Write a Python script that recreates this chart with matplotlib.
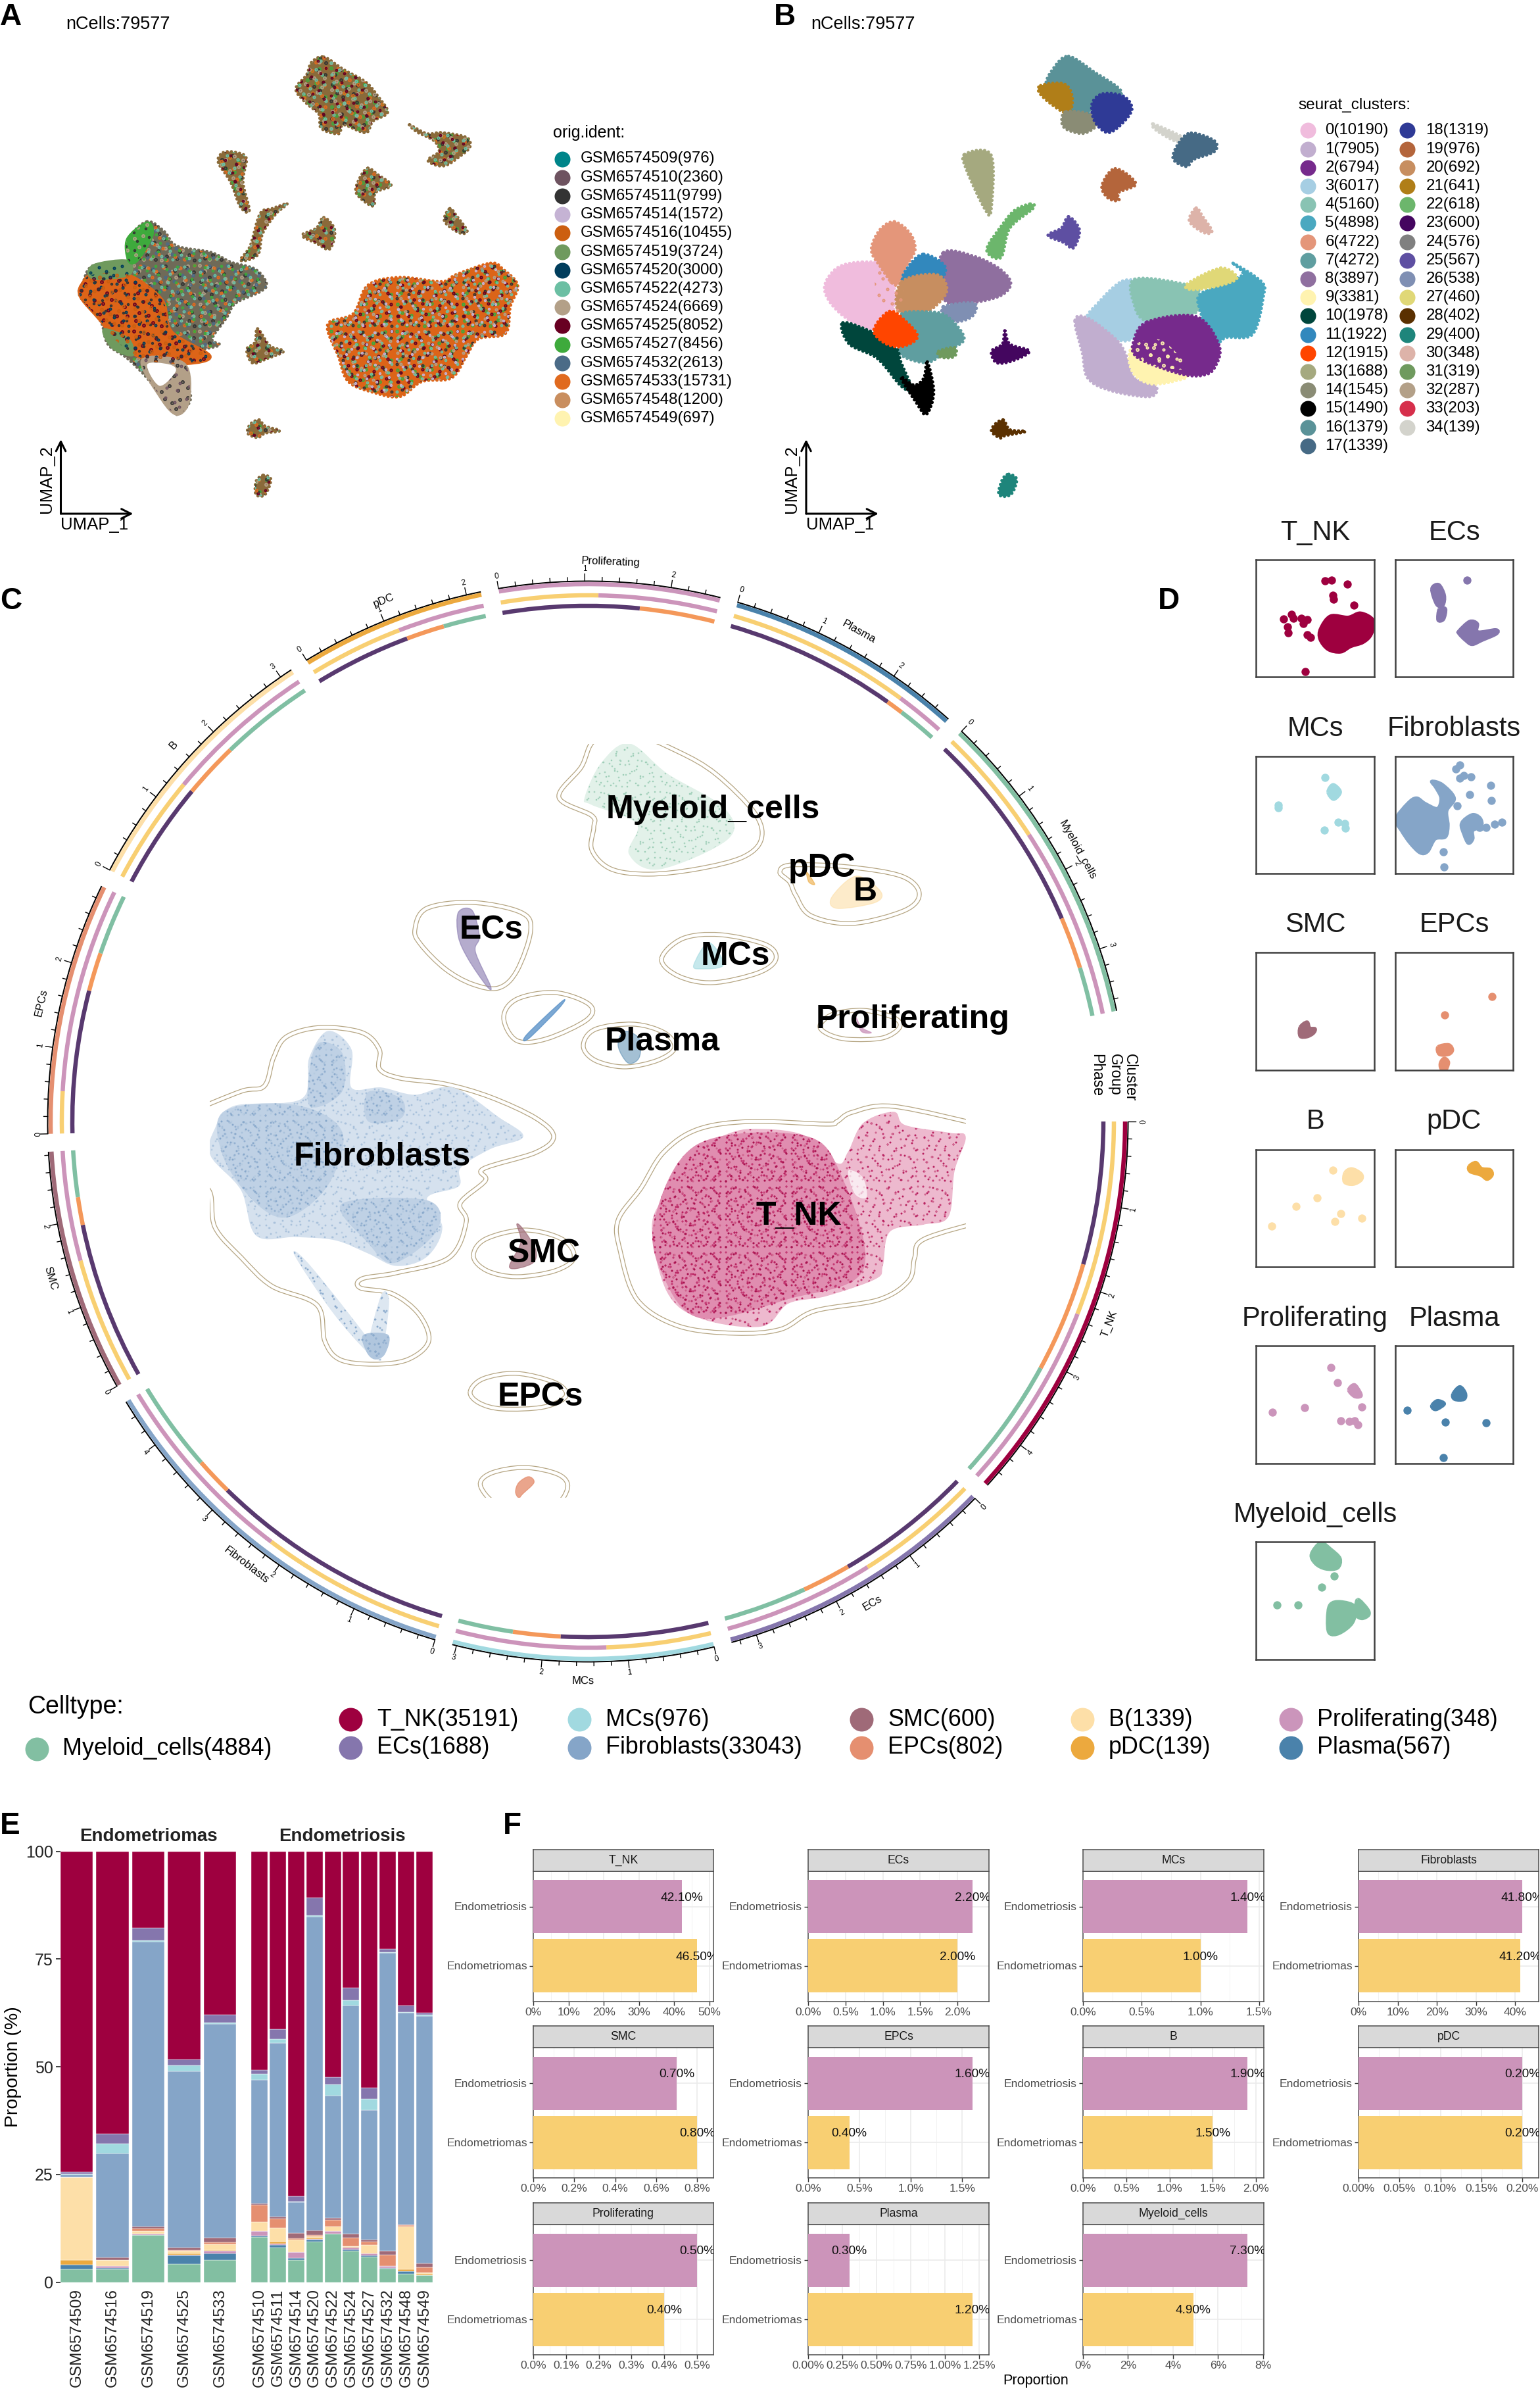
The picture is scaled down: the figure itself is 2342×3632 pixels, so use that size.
import matplotlib
matplotlib.use("Agg")
import matplotlib.pyplot as plt
import matplotlib.hatch as mhatch
import numpy as np
from matplotlib.patches import PathPatch
from matplotlib.path import Path

plt.rcParams['font.family'] = ['Liberation Sans', 'DejaVu Sans']

W, H = 2342, 3632

# ---------- legends ----------
sample_names = ["GSM6574509", "GSM6574510", "GSM6574511", "GSM6574514", "GSM6574516",
                "GSM6574519", "GSM6574520", "GSM6574522", "GSM6574524", "GSM6574525",
                "GSM6574527", "GSM6574532", "GSM6574533", "GSM6574548", "GSM6574549"]
sample_counts = [976, 2360, 9799, 1572, 10455, 3724, 3000, 4273, 6669, 8052, 8456, 2613, 15731, 1200, 697]
sample_colors = ["#00858A", "#6E5360", "#333333", "#C5B3D4", "#CC5F10", "#6F9A5E", "#003D5C", "#6BBFA3",
                 "#B3A088", "#680022", "#3EAA3C", "#4B6B87", "#E06A1F", "#C98E5E", "#FFF3B0"]

cluster_counts = [10190, 7905, 6794, 6017, 5160, 4898, 4722, 4272, 3897, 3381, 1978, 1922, 1915, 1688, 1545,
                  1490, 1379, 1339, 1319, 976, 692, 641, 618, 600, 576, 567, 538, 460, 402, 400, 348, 319,
                  287, 203, 139]
cluster_colors = ["#F0BCDD", "#C1AECF", "#762A8C", "#A6CEE3", "#89C3B3", "#4AA8C0", "#E4967A", "#5F9EA0",
                  "#8F6F9F", "#FFF3B0", "#00463C", "#3288BD", "#FF4500", "#A5A97F", "#8A8C75", "#000000",
                  "#5A9298", "#466A85", "#2F3A96", "#B4653B", "#C78E60", "#B07E18", "#6CB66C", "#44065F",
                  "#808080", "#5E4FA2", "#7F8FB3", "#E0D877", "#5A3000", "#1E857B", "#DDB3A9", "#6F9A5E",
                  "#B3A088", "#D62F4B", "#D3D3CC"]

celltype_names = ["T_NK", "ECs", "MCs", "Fibroblasts", "SMC", "EPCs", "B", "pDC", "Proliferating", "Plasma",
                  "Myeloid_cells"]
celltype_counts = [35191, 1688, 976, 33043, 600, 802, 1339, 139, 348, 567, 4884]
celltype_colors = ["#9E003F", "#8576AD", "#A1D9E0", "#85A5C8", "#9F6A78", "#E58F70", "#FDDFA8", "#ECA93E",
                   "#CB95BB", "#4A82AB", "#82BFA2"]

# ---------- panel A outlines ----------
a_top = [(660, 160), (700, 195), (745, 230), (770, 270), (790, 315), (760, 340), (745, 372), (700, 350), (690, 375),
         (655, 360), (650, 320), (625, 290), (603, 250), (625, 210), (635, 175)]
a_right = [(835, 350), (870, 375), (900, 372), (950, 385), (958, 410), (945, 430), (905, 465), (872, 450), (895, 425),
           (885, 395), (850, 370)]
a_ecs = [(455, 428), (482, 428), (502, 445), (495, 510), (508, 590), (490, 580), (470, 510), (445, 455)]
a_mid = [(750, 472), (770, 490), (797, 520), (765, 540), (762, 577), (740, 562), (725, 535), (735, 495)]
a_thin = [(917, 585), (930, 605), (952, 648), (935, 652), (906, 620)]
a_branch = [(585, 572), (562, 600), (535, 655), (525, 715), (490, 730), (510, 690), (530, 600), (555, 585)]
a_plasma = [(660, 610), (682, 645), (672, 698), (645, 682), (616, 660), (645, 640)]
a_fib = [(300, 622), (335, 650), (360, 690), (430, 708), (470, 735), (520, 755), (543, 795), (530, 818), (480, 850),
         (462, 890), (432, 950), (447, 968), (400, 985), (428, 998), (380, 1020), (378, 1060), (388, 1120), (362, 1162),
         (340, 1130), (300, 1060), (260, 1005), (220, 965), (205, 900), (163, 830), (170, 790), (190, 745), (258, 732),
         (262, 670)]
a_fib_left = [(170, 790), (190, 770), (260, 770), (330, 840), (350, 930), (428, 998), (380, 1020), (300, 1010), (240, 960),
              (205, 900), (163, 830)]
a_fib_olive_top = [(190, 745), (258, 732), (262, 770), (190, 780)]
a_fib_olive_low = [(212, 925), (260, 950), (270, 995), (230, 975)]
a_fib_green = [(300, 625), (310, 660), (280, 730), (262, 730), (260, 670)]
a_fib_tail = [(290, 1010), (375, 1020), (385, 1120), (362, 1162), (330, 1120)]
a_fib_hole = [(300, 1022), (345, 1022), (358, 1042), (325, 1082)]
a_tnk = [(1000, 738), (1025, 755), (1055, 800), (1040, 860), (1030, 935), (975, 950), (950, 1000), (920, 1060), (860, 1070),
         (815, 1112), (760, 1100), (710, 1070), (690, 1000), (668, 910), (720, 880), (750, 800), (815, 778), (900, 790), (930, 770)]
a_smc = [(525, 922), (550, 970), (578, 985), (545, 1005), (515, 1018), (503, 980), (520, 960)]
a_epc = [(528, 1178), (540, 1195), (570, 1208), (540, 1215), (525, 1227), (505, 1215), (510, 1190)]
a_pdc = [(537, 1333), (552, 1345), (540, 1387), (522, 1387), (522, 1350)]

# ---------- panel B cluster outlines: (cluster, outline) ----------
b_regions = [
    (0, [(190, 735), (250, 745), (255, 810), (250, 880), (215, 925), (165, 900), (125, 850), (113, 800), (140, 750)]),
    (6, [(255, 622), (287, 655), (297, 700), (280, 745), (258, 800), (225, 745), (208, 700), (225, 645)]),
    (8, [(355, 708), (420, 720), (470, 755), (492, 795), (470, 830), (410, 850), (365, 850), (345, 800)]),
    (11, [(315, 713), (357, 745), (350, 785), (320, 800), (272, 790), (285, 745)]),
    (20, [(270, 790), (340, 770), (362, 810), (345, 850), (310, 880), (262, 870)]),
    (26, [(355, 860), (417, 850), (415, 885), (385, 902), (360, 890)]),
    (7, [(270, 880), (330, 875), (365, 890), (397, 950), (360, 985), (320, 1017), (265, 990), (280, 930)]),
    (31, [(345, 985), (378, 975), (377, 1000), (350, 1002)]),
    (10, [(150, 905), (215, 935), (258, 975), (268, 1015), (290, 1090), (268, 1082), (220, 1005), (163, 965)]),
    (12, [(245, 873), (277, 900), (302, 945), (270, 972), (235, 962), (213, 925)]),
    (15, [(322, 1015), (335, 1100), (320, 1162), (300, 1130), (268, 1058), (295, 1080), (315, 1060)]),
    (13, [(398, 433), (452, 435), (452, 588), (440, 588), (403, 480)]),
    (22, [(532, 572), (537, 585), (490, 640), (472, 722), (443, 700), (475, 630), (500, 590)]),
    (25, [(610, 608), (632, 645), (620, 695), (600, 680), (568, 660), (595, 640)]),
    (19, [(705, 473), (747, 515), (712, 540), (712, 562), (690, 555), (678, 520)]),
    (23, [(480, 928), (490, 965), (530, 985), (495, 1012), (463, 1017), (453, 985), (475, 965)]),
    (28, [(477, 1178), (490, 1205), (522, 1210), (480, 1222), (470, 1228), (453, 1210), (460, 1190)]),
    (29, [(488, 1330), (504, 1345), (492, 1387), (468, 1387), (475, 1345)]),
    (30, [(870, 583), (882, 605), (902, 648), (885, 652), (856, 620)]),
    (34, [(783, 348), (842, 385), (830, 397), (790, 367)]),
    (17, [(860, 373), (907, 395), (907, 425), (865, 447), (850, 467), (823, 445), (835, 400)]),
    (16, [(610, 158), (660, 200), (718, 260), (660, 292), (650, 320), (615, 318), (590, 300), (610, 255), (565, 240), (580, 190)]),
    (21, [(553, 240), (600, 235), (617, 270), (612, 315), (590, 307), (553, 265)]),
    (14, [(605, 313), (652, 320), (667, 350), (640, 374), (605, 362), (596, 340)]),
    (18, [(680, 263), (722, 270), (739, 305), (720, 345), (690, 372), (663, 340), (658, 290)]),
    (3, [(720, 788), (760, 800), (745, 860), (770, 900), (740, 950), (705, 950), (648, 900), (670, 850)]),
    (4, [(745, 783), (855, 800), (880, 830), (875, 870), (840, 890), (770, 900), (745, 860)]),
    (5, [(945, 738), (1003, 790), (1007, 830), (985, 937), (930, 947), (910, 972), (895, 960), (880, 880), (875, 830), (915, 800), (965, 770)]),
    (27, [(920, 752), (953, 780), (915, 802), (860, 812), (853, 795)]),
    (1, [(623, 898), (650, 893), (705, 950), (725, 990), (745, 1060), (787, 1080), (777, 1112), (700, 1097), (650, 1062), (638, 990)]),
    (9, [(745, 968), (790, 990), (850, 1050), (830, 1067), (780, 1077), (745, 1052), (733, 1005)]),
    (2, [(770, 903), (870, 888), (917, 970), (907, 1032), (885, 1052), (850, 1052), (800, 1032), (748, 1000), (742, 960)]),
]
b_mix_nine = [(748, 965), (800, 955), (850, 1030), (800, 1030), (760, 1010)]
b_mix_six = [(225, 745), (265, 750), (270, 860), (235, 870), (215, 800)]

# ---------- panel C ring ----------
sector_max = [4.6, 3.3, 3.05, 4.6, 2.84, 2.95, 3.15, 2.17, 2.58, 2.8, 3.74]
group_split = [0.507, 0.45, 0.41, 0.486, 0.536, 0.17, 0.417, 0.52, 0.45, 0.79, 0.384]
phase_purple = [0.38, 0.51, 0.59, 0.66, 0.68, 0.59, 0.417, 0.545, 0.645, 0.755, 0.67]
phase_orange = [0.675, 0.69, 0.78, 0.76, 0.80, 0.75, 0.634, 0.76, 1.0, 0.83, 0.84]

# contours of panel C, figure pixels
c_contour_fib = [(290, 1690), (367, 1659), (402, 1651), (416, 1608), (436, 1576), (488, 1562), (551, 1570), (577, 1596), (577, 1625),
                 (608, 1639), (677, 1648), (746, 1668), (815, 1700), (842, 1728), (815, 1752), (735, 1777), (738, 1795), (700, 1829),
                 (709, 1858), (683, 1912), (603, 1935), (551, 1944), (548, 1958), (597, 1967), (637, 1998), (652, 2039), (620, 2067),
                 (568, 2074), (517, 2067), (494, 2039), (482, 1984), (413, 1955), (367, 1912), (327, 1866), (319, 1812), (290, 1790)]
c_contour_tnk = [(1500, 1855), (1405, 1884), (1391, 1912), (1382, 1947), (1336, 1976), (1239, 1993), (1187, 2021), (1118, 2027),
                 (1032, 2016), (969, 1976), (943, 1901), (940, 1855), (975, 1806), (1009, 1752), (1061, 1717), (1141, 1705),
                 (1256, 1709), (1273, 1705), (1296, 1691), (1359, 1682), (1500, 1712)]
c_contour_mye = [(960, 1115), (1032, 1143), (1089, 1177), (1147, 1235), (1158, 1275), (1130, 1303), (1061, 1321), (986, 1329),
                 (929, 1321), (900, 1292), (903, 1258), (900, 1240), (850, 1212), (884, 1166), (905, 1125)]
c_contour_ecs = [(631, 1413), (649, 1381), (718, 1372), (792, 1387), (807, 1415), (786, 1476), (758, 1502), (718, 1496), (677, 1473), (640, 1436)]
c_contour_tail = [(766, 1547), (786, 1519), (844, 1509), (896, 1527), (893, 1550), (832, 1579), (786, 1582)]
c_contour_pla = [(887, 1590), (905, 1565), (963, 1557), (1010, 1570), (1026, 1593), (1000, 1612), (950, 1622), (905, 1612)]
c_contour_mcs = [(1006, 1458), (1038, 1427), (1095, 1421), (1164, 1436), (1180, 1458), (1153, 1479), (1084, 1494), (1032, 1484)]
c_contour_b = [(1186, 1326), (1204, 1315), (1290, 1318), (1371, 1332), (1398, 1358), (1376, 1384), (1296, 1404), (1233, 1392), (1210, 1361), (1201, 1341)]
c_contour_pro = [(1247, 1559), (1267, 1542), (1313, 1536), (1359, 1547), (1368, 1562), (1342, 1578), (1290, 1580), (1259, 1572)]
c_contour_smc = [(720, 1910), (738, 1884), (798, 1870), (855, 1884), (873, 1912), (844, 1932), (786, 1941), (741, 1932)]
c_contour_epc = [(715, 2116), (735, 2096), (786, 2088), (844, 2102), (861, 2122), (827, 2139), (764, 2142), (729, 2133)]
c_contour_low = [(731, 2260), (746, 2240), (798, 2231), (850, 2242), (863, 2263), (838, 2290), (764, 2290)]

c_cloud_fib = [(499, 1568), (534, 1596), (534, 1654), (580, 1654), (631, 1665), (689, 1654), (758, 1699), (795, 1728), (746, 1746), (700, 1775),
               (697, 1803), (649, 1821), (672, 1866), (649, 1910), (603, 1924), (560, 1905), (510, 1885), (450, 1880), (390, 1878),
               (367, 1809), (321, 1757), (327, 1717), (356, 1682), (459, 1671), (471, 1608)]
c_core_fib_top = [(480, 1590), (520, 1600), (520, 1660), (470, 1680)]
c_core_fib_left = [(340, 1690), (450, 1680), (520, 1720), (500, 1800), (440, 1850), (390, 1830), (340, 1760)]
c_core_fib_mid = [(560, 1660), (610, 1670), (610, 1700), (560, 1705)]
c_core_fib_right = [(520, 1830), (650, 1825), (665, 1870), (600, 1920), (560, 1890)]
c_tail_one = [(448, 1907), (476, 1930), (574, 2056), (560, 2056), (505, 1993)]
c_tail_two = [(580, 1970), (591, 1976), (585, 2033), (577, 2062), (560, 2050)]
c_tail_end = [(553, 2030), (590, 2030), (585, 2058), (570, 2066), (558, 2055)]
c_cloud_tnk = [(1095, 1729), (1141, 1717), (1221, 1726), (1273, 1769), (1290, 1752), (1313, 1708), (1359, 1691), (1376, 1711), (1445, 1723), (1468, 1729),
               (1451, 1780), (1442, 1849), (1405, 1861), (1353, 1872), (1342, 1924), (1331, 1944), (1256, 1970), (1199, 1981), (1158, 2016),
               (1066, 2004), (1015, 1964), (992, 1866), (1015, 1815), (1050, 1775), (1072, 1740)]
c_core_tnk = [(1060, 1740), (1221, 1726), (1279, 1786), (1313, 1930), (1199, 1975), (1066, 2004), (1009, 1941), (995, 1855)]
c_slit_tnk = [(1290, 1780), (1312, 1790), (1318, 1820), (1300, 1815)]
c_cloud_mye = [(957, 1131), (1015, 1177), (1101, 1229), (1107, 1275), (1003, 1321), (957, 1298), (969, 1252), (900, 1223), (890, 1212), (915, 1160)]
c_cloud_ecs = [(697, 1387), (718, 1384), (729, 1424), (723, 1447), (746, 1499), (740, 1499), (712, 1458), (697, 1424)]
c_cloud_tail = [(855, 1522), (850, 1533), (804, 1579), (801, 1573)]
c_cloud_mcs = [(1078, 1433), (1100, 1467), (1066, 1473), (1055, 1467)]
c_cloud_b = [(1302, 1332), (1339, 1355), (1331, 1372), (1273, 1381), (1265, 1364)]
c_cloud_pdc = [(1227, 1326), (1239, 1344), (1230, 1341)]
c_cloud_pro = [(1302, 1547), (1310, 1562), (1325, 1570), (1310, 1568)]
c_cloud_pla = [(949, 1568), (972, 1579), (972, 1608), (955, 1616), (940, 1590)]
c_cloud_smc = [(786, 1861), (798, 1872), (815, 1901), (809, 1921), (775, 1927), (792, 1889)]
c_cloud_low = [(804, 2245), (812, 2254), (795, 2271), (789, 2277), (784, 2268), (789, 2254)]

c_big_labels = ["Myeloid_cells", "pDC", "B", "MCs", "Proliferating", "Plasma", "ECs", "Fibroblasts", "SMC", "EPCs", "T_NK"]
c_big_x = [1084, 1250, 1316, 1118, 1388, 1007, 747, 581, 827, 822, 1215]
c_big_y = [1231, 1320, 1356, 1454, 1550, 1584, 1414, 1759, 1906, 2124, 1849]

# ---------- panel D small maps, dots then blobs, one set per cell type ----------
d_dots = {
    "T_NK": [(278, 50), (303, 49), (368, 58), (310, 85), (312, 95), (393, 108), (111, 142), (142, 130), (151, 140), (181, 140), (205, 143),
             (190, 152), (126, 160), (128, 175), (205, 180), (218, 185), (197, 268)],
    "ECs": [(290, 48)],
    "MCs": [(277, 51), (91, 117), (91, 122), (274, 176), (330, 157), (355, 160), (358, 172)],
    "Fibroblasts": [(260, 20), (245, 30), (275, 45), (260, 52), (305, 48), (385, 70), (300, 92), (250, 118), (387, 105), (195, 228), (197, 264),
                    (430, 157), (400, 162), (365, 170), (340, 170)],
    "SMC": [],
    "EPCs": [(390, 105), (198, 148)],
    "B": [(310, 48), (245, 115), (160, 136), (63, 182), (340, 153), (317, 171), (425, 163)],
    "pDC": [],
    "Proliferating": [(302, 52), (328, 87), (425, 146), (196, 147), (67, 158), (340, 178), (375, 180), (395, 178), (408, 188)],
    "Plasma": [(48, 153), (203, 181), (367, 183), (195, 266)],
    "Myeloid_cells": [(315, 82), (263, 108), (85, 150), (168, 150)],
}
d_blobs = {
    "T_NK": [[(260, 165), (300, 135), (370, 138), (420, 128), (470, 145), (462, 178), (430, 197), (380, 207), (340, 220), (290, 214), (258, 190)]],
    "ECs": [[(148, 70), (175, 60), (197, 85), (192, 108), (168, 107)], [(178, 118), (202, 118), (194, 142), (173, 144)],
            [(258, 170), (300, 148), (330, 153), (332, 173), (405, 168), (407, 177), (350, 192), (310, 202), (283, 192), (258, 177)]],
    "MCs": [[(290, 85), (310, 68), (338, 85), (312, 102)]],
    "Fibroblasts": [[(3, 150), (50, 113), (85, 100), (120, 113), (170, 125), (185, 100), (165, 75), (148, 60), (190, 68), (237, 100), (207, 130),
                     (212, 165), (202, 192), (160, 197), (130, 227), (100, 230), (60, 207), (25, 177)],
                    [(268, 160), (310, 140), (342, 148), (347, 167), (312, 177), (312, 197), (295, 207), (278, 187)]],
    "SMC": [[(178, 178), (205, 166), (215, 180), (237, 182), (230, 192), (205, 200), (178, 199)]],
    "EPCs": [[(173, 225), (215, 220), (230, 232), (215, 242), (178, 242)], [(183, 262), (198, 252), (214, 262), (200, 282), (184, 275)]],
    "B": [[(358, 55), (385, 46), (422, 58), (422, 72), (390, 82), (356, 77)]],
    "pDC": [[(298, 40), (325, 31), (347, 45), (382, 48), (390, 60), (370, 70), (345, 60), (303, 52)]],
    "Proliferating": [[(373, 105), (395, 93), (417, 110), (420, 120), (395, 120)]],
    "Plasma": [[(233, 115), (260, 98), (282, 113), (277, 127), (240, 127)], [(148, 142), (170, 131), (197, 138), (170, 150), (155, 150)]],
    "Myeloid_cells": [[(223, 30), (260, 3), (300, 18), (337, 40), (327, 62), (280, 64), (240, 52)],
                      [(298, 150), (340, 143), (397, 155), (387, 192), (335, 217), (295, 217), (288, 185)],
                      [(408, 138), (447, 160), (452, 174), (425, 182), (403, 172)]],
}
d_order = ["T_NK", "ECs", "MCs", "Fibroblasts", "SMC", "EPCs", "B", "pDC", "Proliferating", "Plasma", "Myeloid_cells"]

# ---------- panel E, percent per sample ----------
stack_order = ["Myeloid_cells", "Plasma", "Proliferating", "pDC", "B", "EPCs", "SMC", "Fibroblasts", "MCs", "ECs", "T_NK"]
endometriomas_samples = ["GSM6574509", "GSM6574516", "GSM6574519", "GSM6574525", "GSM6574533"]
endometriomas_props = [
    [3.0, 1.1, 0, 1.1, 19.2, 0, 0, 0.6, 0.1, 0.5, 74.4],
    [3.0, 0.3, 0.4, 0.1, 1.3, 0.1, 0.5, 24.2, 2.2, 2.3, 65.6],
    [10.9, 0.1, 0.2, 0.1, 0.5, 0.6, 0.6, 66.0, 0.3, 2.9, 17.8],
    [4.2, 2.0, 0.2, 0.2, 0.7, 0.2, 0.5, 41.0, 1.3, 1.4, 48.3],
    [5.2, 1.4, 0.7, 0.2, 1.3, 0.4, 1.1, 49.7, 0.3, 1.7, 38.0],
]
endometriosis_samples = ["GSM6574510", "GSM6574511", "GSM6574514", "GSM6574520", "GSM6574522",
                         "GSM6574524", "GSM6574527", "GSM6574532", "GSM6574548", "GSM6574549"]
endometriosis_props = [
    [10.5, 0.3, 1.1, 0, 2.1, 3.9, 0.4, 28.7, 1.3, 0.9, 50.8],
    [8.1, 0.5, 0.4, 0.4, 3.2, 2.2, 0.4, 40.3, 1.0, 2.2, 41.3],
    [5.2, 0.4, 1.3, 0, 2.9, 0.4, 1.2, 7.1, 0.3, 1.2, 80.0],
    [9.4, 0.4, 0.3, 0.2, 0.4, 0.3, 1.0, 72.8, 0.3, 4.2, 10.7],
    [11.2, 0.1, 0.6, 0, 1.0, 1.6, 0.4, 28.4, 2.6, 1.7, 52.4],
    [7.3, 0.3, 0.5, 0.1, 0.2, 1.9, 0.9, 53.0, 1.3, 2.9, 31.6],
    [5.9, 0.3, 0.4, 0.1, 1.9, 0.8, 0.4, 30.1, 2.6, 2.7, 54.8],
    [3.1, 0.2, 0.4, 0, 0.1, 2.6, 0.9, 69.1, 0.1, 0.8, 22.7],
    [2.0, 0.6, 0, 0.4, 10.0, 0.2, 0.2, 49.1, 0.2, 1.5, 35.8],
    [1.6, 0, 0, 0.4, 0.2, 1.3, 0.9, 57.4, 0.2, 0.6, 37.4],
]

# ---------- panel F ----------
f_endometriosis = [42.1, 2.2, 1.4, 41.8, 0.7, 1.6, 1.9, 0.2, 0.5, 0.3, 7.3]
f_endometriomas = [46.5, 2.0, 1.0, 41.2, 0.8, 0.4, 1.5, 0.2, 0.4, 1.2, 4.9]
f_ticks = [[0, 10, 20, 30, 40, 50], [0, 0.5, 1, 1.5, 2], [0, 0.5, 1, 1.5], [0, 10, 20, 30, 40],
           [0, 0.2, 0.4, 0.6, 0.8], [0, 0.5, 1, 1.5], [0, 0.5, 1, 1.5, 2], [0, 0.05, 0.1, 0.15, 0.2],
           [0, 0.1, 0.2, 0.3, 0.4, 0.5], [0, 0.25, 0.5, 0.75, 1, 1.25], [0, 2, 4, 6, 8]]
f_decimals = [0, 1, 1, 0, 1, 1, 1, 2, 1, 2, 0]

color_of = dict(zip(celltype_names, celltype_colors))
PINK, YELLOW = "#CC94BA", "#F8CF72"
PHASE_PURPLE, PHASE_ORANGE, PHASE_GREEN = "#58396F", "#F4985A", "#80BFA3"
TAN = "#B5A582"

# the crowded point clouds are drawn as a hatch texture: one fixed irregular tile, flipped per hatch symbol
speck_tile = [(7, 12), (19, 5), (33, 9), (46, 4), (58, 13), (71, 6), (86, 10), (94, 19), (12, 24), (26, 20), (39, 27), (52, 22),
              (65, 28), (78, 19), (90, 33), (5, 37), (18, 41), (31, 35), (44, 43), (57, 38), (70, 44), (83, 41), (95, 52), (10, 54),
              (24, 58), (37, 51), (50, 60), (63, 54), (76, 58), (88, 66), (6, 70), (17, 74), (30, 68), (43, 76), (55, 71), (68, 78),
              (81, 73), (93, 84), (12, 88), (25, 92), (38, 85), (51, 93), (62, 87), (74, 92), (86, 95), (4, 96)]
speck_flips = {"/": lambda x, y: (x, y), "\\": lambda x, y: (y, x), "|": lambda x, y: (1 - x, y),
               "-": lambda x, y: (x, 1 - y), "+": lambda x, y: (1 - y, x), "x": lambda x, y: (y, 1 - x)}


class SpeckHatch(mhatch.HatchPatternBase):
    def __init__(self, hatch, density):
        self.flips = [f for ch, f in speck_flips.items() if ch in (hatch or "")]
        self.circle = Path.unit_circle()
        self.num_vertices = len(self.circle.vertices) * len(speck_tile) * len(self.flips)

    def set_vertices_and_codes(self, vertices, codes):
        n = len(self.circle.vertices)
        k = 0
        for f in self.flips:
            for px, py in speck_tile:
                cx, cy = f(px / 100, py / 100)
                vertices[k:k + n] = self.circle.vertices * 0.008 + (cx, cy)
                codes[k:k + n] = self.circle.codes
                k += n


mhatch._hatch_types[:] = [SpeckHatch]

fig = plt.figure(figsize=(W / 100, H / 100), dpi=100, facecolor="white")


def px_axes(x0, y0, x1, y1, **kw):
    return fig.add_axes([x0 / W, 1 - y1 / H, (x1 - x0) / W, (y1 - y0) / H], **kw)


def smooth(xy, closed=True):
    # curve through the read points
    p = np.array(xy, float)
    if closed:
        before, after, after2 = np.roll(p, 1, axis=0), np.roll(p, -1, axis=0), np.roll(p, -2, axis=0)
        seg_from, seg_to = p, after
    else:
        before = np.vstack([p[:1], p[:-1]])[:-1]
        after = p[1:]
        after2 = np.vstack([p[2:], p[-1:]])
        seg_from, seg_to = p[:-1], after
    c1 = seg_from + (seg_to - before) / 6
    c2 = seg_to - (after2 - seg_from) / 6
    verts, codes = [seg_from[0]], [Path.MOVETO]
    for a, b, e in zip(c1, c2, seg_to):
        verts += [a, b, e]
        codes += [Path.CURVE4] * 3
    return Path(verts, codes)


def blob(ax, xy, color, lw=2.0, alpha=None, z=2):
    ax.add_patch(PathPatch(smooth(xy), facecolor=color, edgecolor=color, lw=lw, alpha=alpha, zorder=z))


def dotted(ax, xy, color, lw=3.6, z=2):
    # filled outline with a row of points along its edge
    ax.add_patch(PathPatch(smooth(xy), facecolor=color, edgecolor="none", zorder=z))
    ax.add_patch(PathPatch(smooth(xy), fill=False, edgecolor=color, lw=lw, linestyle=(0, (0.01, 1.25)),
                           capstyle="round", zorder=z))


def speckle(ax, xy, layers, z=3):
    for k, (symbol, color, dot_lw) in enumerate(layers):
        plt.rcParams['hatch.linewidth'] = dot_lw
        ax.add_patch(PathPatch(smooth(xy), fill=False, edgecolor=color, hatch=symbol, lw=0, zorder=z + k * 0.01))


def bare(ax):
    ax.set_xticks([])
    ax.set_yticks([])
    for s in ax.spines.values():
        s.set_visible(False)
    ax.patch.set_alpha(0)


# ---------- panel A ----------
ax_a = px_axes(0, 0, 1170, 850)
ax_a.set_xlim(0, 1568)
ax_a.set_ylim(1568, 0)
bare(ax_a)
mix_small = [("/", "#3EAA3C", 3), ("\\", "#333333", 3), ("|", "#E06A1F", 3), ("-", "#B3A088", 3), ("+", "#6BBFA3", 2.6), ("x", "#680022", 2.2)]
mix_tnk = [("/", "#3EAA3C", 2.8), ("\\", "#333333", 2.4), ("|", "#680022", 2.6), ("-", "#B3A088", 2.4), ("+", "#6BBFA3", 2.2), ("x", "#C5B3D4", 2)]
mix_fib = [("/", "#B3A088", 3), ("\\", "#333333", 3), ("|", "#E06A1F", 2.6), ("-", "#4B6B87", 2.6), ("+", "#6BBFA3", 2.4), ("x", "#3EAA3C", 2.2)]
mix_left = [("/", "#680022", 3), ("\\", "#003D5C", 2.4), ("|", "#333333", 2), ("-", "#CC5F10", 3)]
for shape in [a_top, a_right, a_ecs, a_mid, a_thin, a_branch, a_plasma, a_smc, a_epc, a_pdc]:
    dotted(ax_a, shape, "#8A6A3A")
    speckle(ax_a, shape, mix_small)
dotted(ax_a, a_fib, "#6F6A58")
speckle(ax_a, a_fib, mix_fib)
blob(ax_a, a_fib_left, "#DC6418", lw=3, z=5)
speckle(ax_a, a_fib_left, mix_left, z=6)
blob(ax_a, a_fib_olive_top, "#6F9A5E", lw=3, z=5)
speckle(ax_a, a_fib_olive_top, [("/", "#003D5C", 2.4)], z=6)
blob(ax_a, a_fib_olive_low, "#6F9A5E", lw=3, z=5)
blob(ax_a, a_fib_green, "#3EAA3C", lw=3, z=5)
speckle(ax_a, a_fib_green, [("/", "#B3A088", 3), ("\\", "#333333", 2)], z=6)
blob(ax_a, a_fib_tail, "#B3A088", lw=3, z=5)
speckle(ax_a, a_fib_tail, [("/", "#333333", 3), ("\\", "#6E5360", 2.4)], z=6)
blob(ax_a, a_fib_hole, "white", lw=0, z=7)
dotted(ax_a, a_tnk, "#DC6418")
speckle(ax_a, a_tnk, mix_tnk)

# ---------- panel B ----------
ax_b = px_axes(1170, 0, 2340, 850)
ax_b.set_xlim(0, 1568)
ax_b.set_ylim(1568, 0)
bare(ax_b)
for k, (cluster, shape) in enumerate(b_regions):
    dotted(ax_b, shape, cluster_colors[cluster], z=2 + k * 0.01)
speckle(ax_b, b_mix_nine, [("/", cluster_colors[9], 3), ("|", cluster_colors[9], 2.4)], z=3)
speckle(ax_b, b_mix_six, [("/", cluster_colors[6], 2.5)], z=3)

# ---------- panel C ring ----------
DEG_PER_UNIT, GAP = 9.2, 1.9
ax_r = px_axes(894 - 900, 1705 - 900, 894 + 900, 1705 + 900, projection="polar")
ax_r.set_theta_zero_location("E")
ax_r.set_theta_direction(-1)
ax_r.set_rlim(0, 900)
ax_r.axis("off")
R_AXIS, R_OUT, R_MID, R_IN = 821.5, 817, 800, 784


def arc(t0, t1, r, color, height=6.5):
    ax_r.bar(np.radians((t0 + t1) / 2), height, width=np.radians(t1 - t0), bottom=r - height / 2, color=color, lw=0)


def tangent_rot(th):
    return 90 - th if 0 < th < 180 else 270 - th


start = 0.0
for i, name in enumerate(celltype_names):
    span = sector_max[i] * DEG_PER_UNIT
    end = start + span
    arc(start, end, R_AXIS, "black", height=2)
    arc(start, end, R_OUT, celltype_colors[i])
    split = start + group_split[i] * span
    arc(start, split, R_MID, YELLOW)
    arc(split, end, R_MID, PINK)
    p1, p2 = start + phase_purple[i] * span, start + phase_orange[i] * span
    arc(start, p1, R_IN, PHASE_PURPLE)
    arc(p1, p2, R_IN, PHASE_ORANGE)
    if p2 < end:
        arc(p2, end, R_IN, PHASE_GREEN)
    for v in np.arange(0, sector_max[i], 0.2):
        th = np.radians(start + v * DEG_PER_UNIT)
        major = abs(v - round(v)) < 1e-6
        ax_r.plot([th, th], [R_AXIS, R_AXIS + (11 if major else 6)], color="black", lw=1.0)
        if major:
            ax_r.text(th, R_AXIS + 19, str(int(round(v))), fontsize=8.5, ha="center", va="center",
                      rotation=tangent_rot(start + v * DEG_PER_UNIT), rotation_mode="anchor")
    mid = (start + end) / 2
    ax_r.text(np.radians(mid), 851, name, fontsize=12, ha="center", va="center",
              rotation=tangent_rot(mid), rotation_mode="anchor")
    start = end + GAP

# ---------- panel C centre ----------
ax_c = px_axes(319, 1131, 1469, 2277)
ax_c.set_xlim(319, 1469)
ax_c.set_ylim(2277, 1131)
bare(ax_c)
for shape in [c_contour_mye, c_contour_ecs, c_contour_tail, c_contour_pla, c_contour_mcs, c_contour_b, c_contour_pro,
              c_contour_smc, c_contour_epc, c_contour_low]:
    ax_c.add_patch(PathPatch(smooth(shape), fill=False, edgecolor=TAN, lw=5.2, zorder=1))
    ax_c.add_patch(PathPatch(smooth(shape), fill=False, edgecolor="white", lw=3.4, zorder=1.1))
for shape in [c_contour_fib, c_contour_tnk]:
    ax_c.add_patch(PathPatch(smooth(shape, closed=False), fill=False, edgecolor=TAN, lw=5.2, zorder=1))
    ax_c.add_patch(PathPatch(smooth(shape, closed=False), fill=False, edgecolor="white", lw=3.4, zorder=1.1))

fib_light = [("/", "#A9C1DB", 0.9), ("\\", "#B6CBE1", 0.9), ("|", "#A9C1DB", 0.9)]
fib_dense = [("-", "#94B1D1", 1.0), ("+", "#94B1D1", 1.0), ("x", "#88A8CB", 1.0)]
blob(ax_c, c_cloud_fib, "#D5E1EE", lw=1, z=2)
speckle(ax_c, c_cloud_fib, fib_light)
for shape in [c_core_fib_top, c_core_fib_left, c_core_fib_mid, c_core_fib_right]:
    blob(ax_c, shape, "#BFD1E5", lw=0, z=2.5)
    speckle(ax_c, shape, fib_dense, z=3.5)
for shape in [c_tail_one, c_tail_two]:
    blob(ax_c, shape, "#DDE7F1", lw=1, z=2)
    speckle(ax_c, shape, fib_dense)
blob(ax_c, c_tail_end, "#B0C6DE", lw=1, z=2)
speckle(ax_c, c_tail_end, fib_dense)

blob(ax_c, c_cloud_tnk, "#EDB9CE", lw=1, z=2)
speckle(ax_c, c_cloud_tnk, [("/", "#C43A74", 1.1), ("\\", "#B8215F", 1.0), ("|", "#D0668F", 1.1)])
blob(ax_c, c_core_tnk, "#E08DB0", lw=0, z=2.5)
speckle(ax_c, c_core_tnk, [("-", "#B8215F", 1.2), ("+", "#A8124F", 1.1), ("x", "#C43A74", 1.2)], z=3.5)
blob(ax_c, c_slit_tnk, "#FFFFFF", lw=0, alpha=0.7, z=3.8)

blob(ax_c, c_cloud_mye, "#E2F1E9", lw=1, z=2)
speckle(ax_c, c_cloud_mye, [("/", "#A8D3BF", 0.8), ("\\", "#A8D3BF", 0.8), ("|", "#9CCDB6", 0.7)])
blob(ax_c, c_cloud_ecs, "#8576AD", lw=1, alpha=0.6, z=2)
blob(ax_c, c_cloud_tail, "#5B92C8", lw=1, alpha=0.8, z=2)
blob(ax_c, c_cloud_mcs, "#A1D9E0", lw=1, alpha=0.6, z=2)
blob(ax_c, c_cloud_b, "#FDDFA8", lw=1, alpha=0.6, z=2)
blob(ax_c, c_cloud_pdc, "#ECA93E", lw=1, alpha=0.6, z=2)
blob(ax_c, c_cloud_pro, "#CB95BB", lw=1, alpha=0.8, z=2)
blob(ax_c, c_cloud_pla, "#4A82AB", lw=1, alpha=0.5, z=2)
blob(ax_c, c_cloud_smc, "#9F6A78", lw=1, alpha=0.7, z=2)
blob(ax_c, c_cloud_low, "#E58F70", lw=1, alpha=0.8, z=2)

# ---------- panel D ----------
d_cols = [(1910, 2090), (2122, 2301)]
d_rows = [(851, 1029), (1150, 1328), (1448, 1627), (1748, 1926), (2046, 2225), (2344, 2523)]
d_title_y = [810, 1108, 1406, 1705, 2005, 2303]
for i, name in enumerate(d_order):
    r, c = i // 2, i % 2
    x0, x1 = d_cols[c]
    y0, y1 = d_rows[r]
    ax_d = px_axes(x0, y0, x1, y1)
    ax_d.set_xlim(0, 475)
    ax_d.set_ylim(280, 0)
    ax_d.set_xticks([])
    ax_d.set_yticks([])
    for s in ax_d.spines.values():
        s.set_linewidth(1.8)
        s.set_color("#404040")
    col = color_of[name]
    dots = d_dots[name]
    if dots:
        ax_d.scatter([p[0] for p in dots], [p[1] for p in dots], s=80, color=col, lw=0, clip_on=False)
    for shape in d_blobs[name]:
        blob(ax_d, shape, col, lw=4)

# ---------- overlay text ----------
ax_t = px_axes(0, 0, W, H)
ax_t.set_xlim(0, W)
ax_t.set_ylim(H, 0)
ax_t.axis("off")
ax_t.set_zorder(10)

for letter, x, y in [("A", 0, 26), ("B", 1177, 26), ("C", 0, 914), ("D", 1761, 914), ("E", 0, 2776), ("F", 765, 2776)]:
    ax_t.text(x, y, letter, fontsize=33, fontweight="bold", ha="left", va="center")

for x in [100, 1233]:
    ax_t.text(x, 37, "nCells:79577", fontsize=19.5, ha="left", va="center")

# UMAP arrows
for ox, tx in [(92.5, 71), (1226, 1204)]:
    ax_t.annotate("", xy=(ox, 668), xytext=(ox, 781), arrowprops=dict(arrowstyle="->", lw=2.2, color="black", mutation_scale=26, shrinkA=0, shrinkB=0))
    ax_t.annotate("", xy=(ox + 110, 781), xytext=(ox, 781), arrowprops=dict(arrowstyle="->", lw=2.2, color="black", mutation_scale=26, shrinkA=0, shrinkB=0))
    ax_t.text(tx, 729, "UMAP_2", fontsize=18.5, rotation=90, ha="center", va="center")
    ax_t.text(ox, 798, "UMAP_1", fontsize=18.5, ha="left", va="center")

# legend A
ax_t.text(841, 202, "orig.ident:", fontsize=18, ha="left", va="center")
for k, (nm, n, col) in enumerate(zip(sample_names, sample_counts, sample_colors)):
    y = 241.5 + k * 28.2
    ax_t.scatter(855, y, s=300, color=col, lw=0)
    ax_t.text(883, y, f"{nm}({n})", fontsize=17.3, ha="left", va="center")

# legend B
ax_t.text(1974, 160, "seurat_clusters:", fontsize=17.5, ha="left", va="center")
for k, (n, col) in enumerate(zip(cluster_counts, cluster_colors)):
    row = k if k < 18 else k - 18
    cx, tx = (1989, 2015.5) if k < 18 else (2140, 2168.5)
    y = 198.4 + row * 28.2
    ax_t.scatter(cx, y, s=300, color=col, lw=0)
    ax_t.text(tx, y, f"{k}({n})", fontsize=17.3, ha="left", va="center")

# big labels of panel C
for s, x, y in zip(c_big_labels, c_big_x, c_big_y):
    ax_t.text(x, y, s, fontsize=36, fontweight="bold", ha="center", va="center")
for s, x in [("Cluster", 1718), ("Group", 1695), ("Phase", 1668)]:
    ax_t.text(x, 1602, s, fontsize=16.5, rotation=-90, ha="center", va="top")

# titles of panel D
for i, name in enumerate(d_order):
    ax_t.text(sum(d_cols[i % 2]) / 2, d_title_y[i // 2], name, fontsize=30, ha="center", va="center", color="#1A1A1A")

# cell type legend
ax_t.text(42, 2595, "Celltype:", fontsize=27, ha="left", va="center")
leg_x = [533, 881, 1310, 1646, 1963]
leg_order = [["T_NK", "ECs"], ["MCs", "Fibroblasts"], ["SMC", "EPCs"], ["B", "pDC"], ["Proliferating", "Plasma"]]
count_of = dict(zip(celltype_names, celltype_counts))
for cx, pair in zip(leg_x, leg_order):
    for y, name in zip([2614, 2657], pair):
        ax_t.scatter(cx, y, s=670, color=color_of[name], lw=0)
        ax_t.text(cx + 40, y, f"{name}({count_of[name]})", fontsize=25.8, ha="left", va="center")
ax_t.scatter(56, 2659, s=670, color=color_of["Myeloid_cells"], lw=0)
ax_t.text(95, 2659, f"Myeloid_cells({count_of['Myeloid_cells']})", fontsize=25.8, ha="left", va="center")

# ---------- panel E ----------
e_panels = [((92, 359), endometriomas_samples, endometriomas_props, "Endometriomas"),
            ((382, 658), endometriosis_samples, endometriosis_props, "Endometriosis")]
for n, (xr, samples, props, title) in enumerate(e_panels):
    ax_e = px_axes(xr[0], 2814.5, xr[1], 3469.7)
    props = np.array(props)
    bottom = np.zeros(len(samples))
    x = np.arange(len(samples))
    for j, ct in enumerate(stack_order):
        ax_e.bar(x, props[:, j], 0.9, bottom=bottom, color=color_of[ct], edgecolor="white", lw=0.3)
        bottom += props[:, j]
    ax_e.set_xlim(-0.45, len(samples) - 0.55)
    ax_e.set_ylim(0, 100)
    ax_e.set_xticks(x)
    ax_e.set_xticklabels(samples, rotation=90, fontsize=17.5, color="#222222")
    ax_e.tick_params(axis="x", length=0, pad=7)
    for s in ax_e.spines.values():
        s.set_visible(False)
    if n == 0:
        ax_e.set_yticks([0, 25, 50, 75, 100])
        ax_e.tick_params(axis="y", labelsize=18, length=5, width=1.2, pad=3, labelcolor="#222222", color="#222222")
        ax_e.set_ylabel("Proportion (%)", fontsize=20.5, labelpad=4)
    else:
        ax_e.set_yticks([])
    ax_e.set_title(title, fontsize=20, fontweight="bold", pad=11, color="#222222")

# ---------- panel F ----------
f_cols = [(811, 1085), (1229, 1504), (1647, 1922), (2066, 2340)]
f_rows = [(2812, 2844.5, 3042.5), (3080, 3113, 3311), (3349, 3382, 3580)]
for i, name in enumerate(celltype_names):
    r, c = i // 4, i % 4
    x0, x1 = f_cols[c]
    top, mid, bot = f_rows[r]
    ax_f = px_axes(x0, mid, x1, bot)
    vals = [f_endometriomas[i], f_endometriosis[i]]
    ax_f.barh([0, 1], vals, 0.9, color=[YELLOW, PINK], zorder=3)
    ax_f.set_xlim(0, max(vals) * 1.1)
    ax_f.set_ylim(-0.6, 1.6)
    ticks = f_ticks[i]
    ax_f.set_xticks(ticks)
    ax_f.set_xticklabels([f"{t:.{f_decimals[i]}f}%" for t in ticks])
    ax_f.set_xticks((np.array(ticks[:-1]) + np.array(ticks[1:])) / 2, minor=True)
    ax_f.set_yticks([0, 1])
    ax_f.set_yticklabels(["Endometriomas", "Endometriosis"])
    ax_f.tick_params(axis="both", labelsize=12.6, labelcolor="#4D4D4D", color="#333333", length=4, width=1, pad=2.5)
    ax_f.tick_params(axis="x", which="minor", length=0)
    ax_f.grid(True, which="major", color="#EBEBEB", lw=1.2, zorder=0)
    ax_f.grid(True, which="minor", axis="x", color="#F2F2F2", lw=0.7, zorder=0)
    ax_f.set_axisbelow(True)
    for s in ax_f.spines.values():
        s.set_color("#4D4D4D")
        s.set_linewidth(1.1)
    for yy, v in zip([0, 1], vals):
        ax_f.text(v, yy + 0.15, f"{v:.2f}%", fontsize=13.8, ha="center", va="center", color="#111111", zorder=5, clip_on=True)
    strip = px_axes(x0, top, x1, mid)
    strip.set_facecolor("#D9D9D9")
    strip.set_xticks([])
    strip.set_yticks([])
    for s in strip.spines.values():
        s.set_color("#4D4D4D")
        s.set_linewidth(1.1)
    strip.text(0.5, 0.5, name, fontsize=12.7, ha="center", va="center", color="#1A1A1A", transform=strip.transAxes)

ax_t.text(1575, 3620, "Proportion", fontsize=15.6, ha="center", va="center")

plt.savefig("out.png", dpi=100)
